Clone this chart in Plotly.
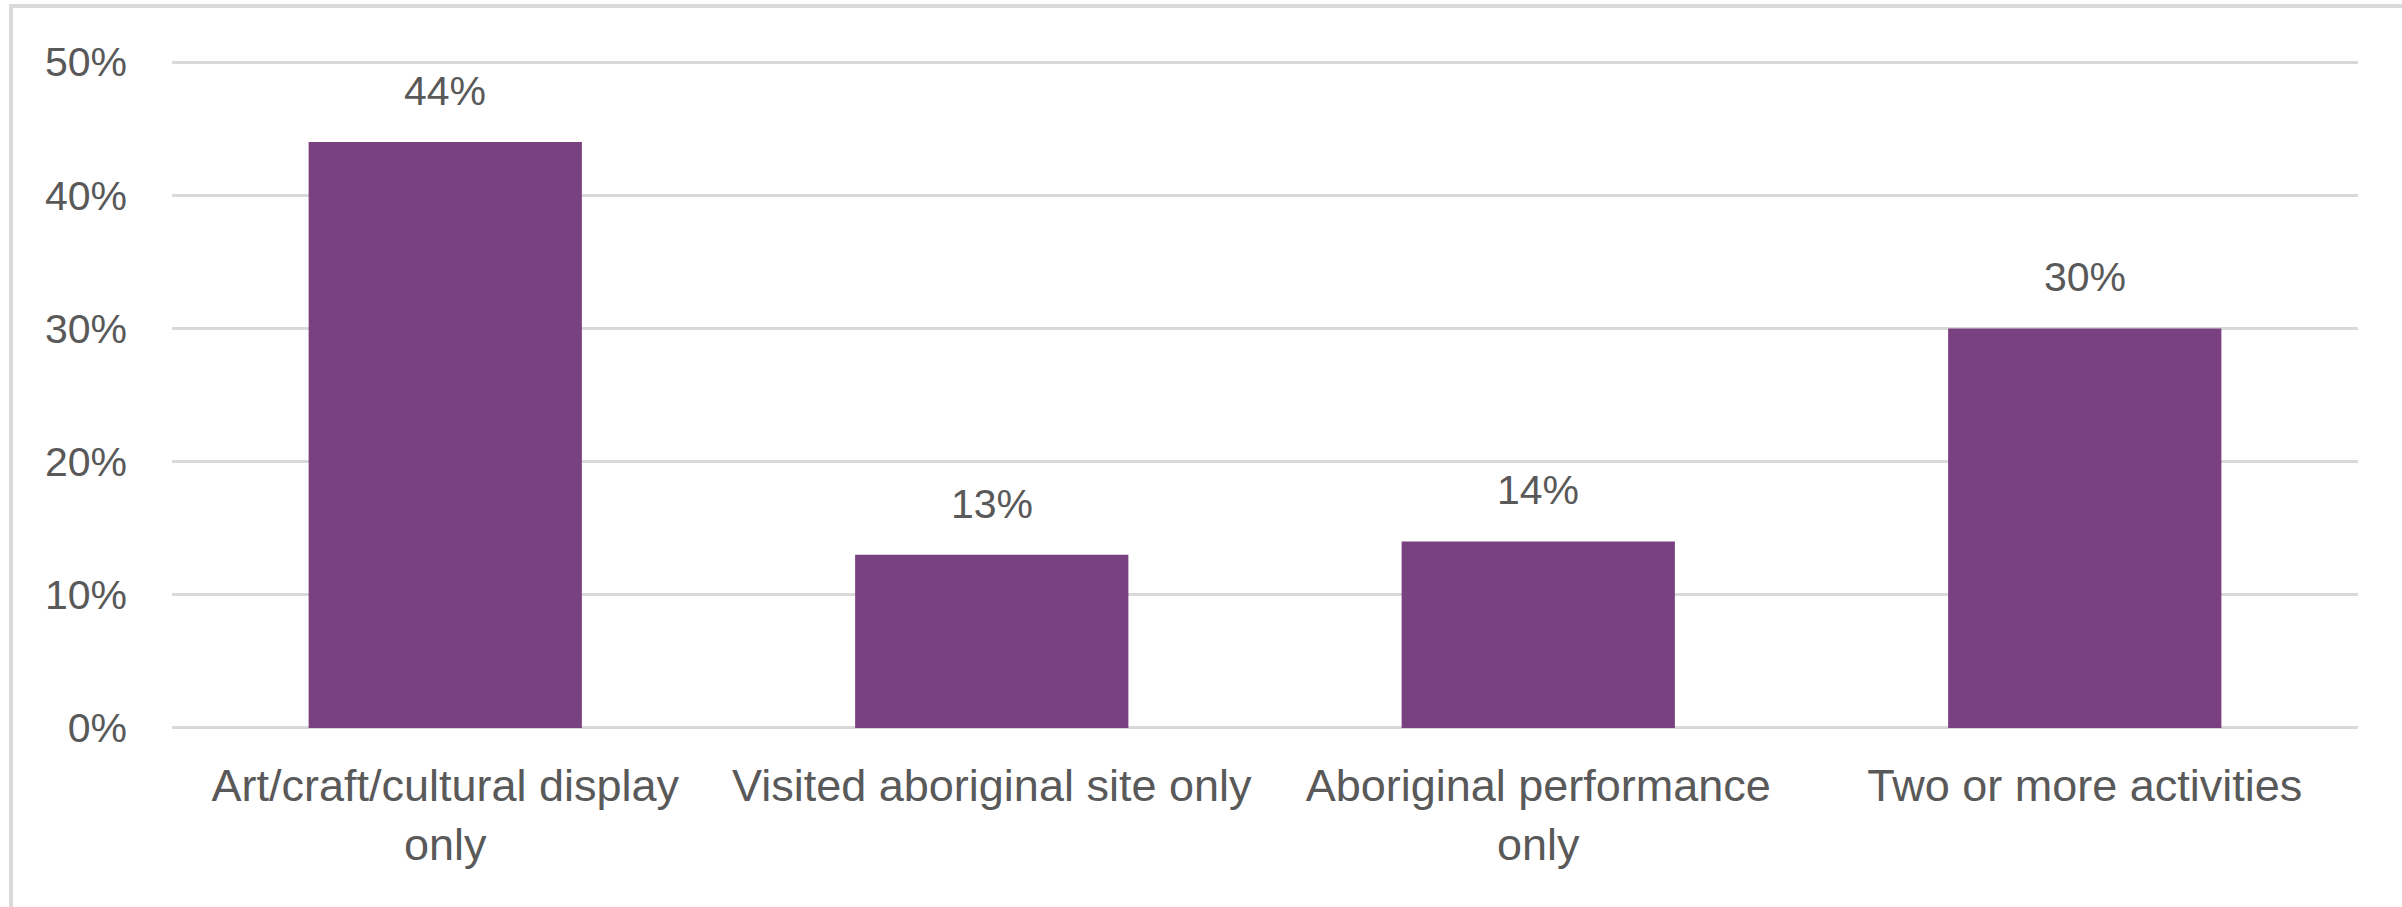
import plotly.graph_objects as go

categories = [
    "Art/craft/cultural display<br>only",
    "Visited aboriginal site only",
    "Aboriginal performance<br>only",
    "Two or more activities",
]
values = [44, 13, 14, 30]
value_labels = ["44%", "13%", "14%", "30%"]
y_tickvals = [0, 10, 20, 30, 40, 50]
y_ticktext = ["0%", "10%", "20%", "30%", "40%", "50%"]

BAR = "#7A4180"
GRID = "#D9D9D9"
TEXT = "#595959"
FONT = "Liberation Sans, Arial, sans-serif"

W, H = 2402, 907
L, R, T, B = 172, 44, 61, 178

fig = go.Figure()
fig.add_trace(go.Bar(x=categories, y=values, marker=dict(color=BAR, line=dict(width=0)),
                     hoverinfo="skip"))

for c, v, t in zip(categories, values, value_labels):
    fig.add_annotation(x=c, y=v, text=t, showarrow=False, yanchor="middle",
                       yshift=51, font=dict(family=FONT, size=41, color=TEXT))

pw = W - L - R
ph = H - T - B
fig.add_shape(type="rect", xref="paper", yref="paper",
              x0=(11 - L) / pw, x1=(W + 10 - L) / pw,
              y0=(H - B - (H + 10)) / ph, y1=(H - B - 6) / ph,
              line=dict(color=GRID, width=4), fillcolor="rgba(0,0,0,0)", layer="below")

fig.update_layout(
    width=W, height=H,
    margin=dict(l=L, r=R, t=T, b=B, pad=0),
    paper_bgcolor="white", plot_bgcolor="white",
    bargap=0.5, showlegend=False,
    font=dict(family=FONT, color=TEXT),
    xaxis=dict(showgrid=False, showline=False, ticks="", tickfont=dict(size=45, color=TEXT),
               ticklabelstandoff=26),
    yaxis=dict(range=[-0.08, 50.08], tickvals=y_tickvals, ticktext=y_ticktext,
               showgrid=True, gridcolor=GRID, gridwidth=3, zeroline=False,
               showline=False, ticks="", tickfont=dict(size=41, color=TEXT),
               ticklabelstandoff=44),
)

fig.write_html("out.html")
